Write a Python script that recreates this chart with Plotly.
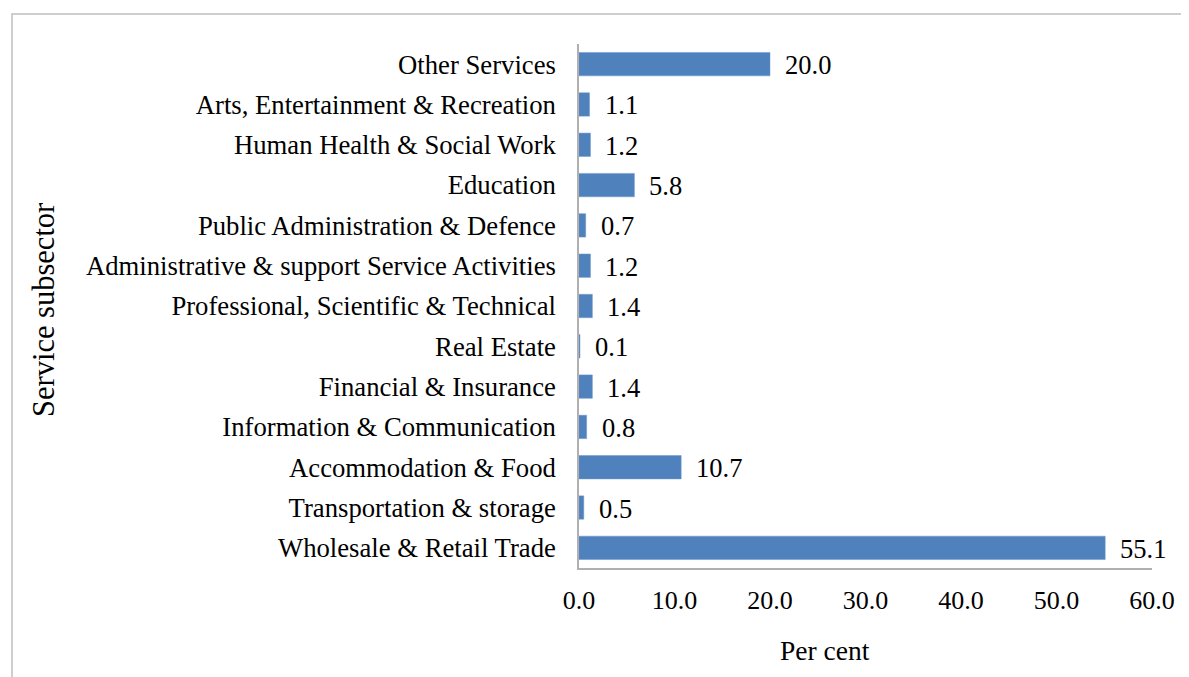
import plotly.graph_objects as go

categories = [
    "Wholesale & Retail Trade",
    "Transportation & storage",
    "Accommodation & Food",
    "Information & Communication",
    "Financial & Insurance",
    "Real Estate",
    "Professional, Scientific & Technical",
    "Administrative & support Service Activities",
    "Public Administration & Defence",
    "Education",
    "Human Health & Social Work",
    "Arts, Entertainment & Recreation",
    "Other Services",
]
values = [55.1, 0.5, 10.7, 0.8, 1.4, 0.1, 1.4, 1.2, 0.7, 5.8, 1.2, 1.1, 20.0]
x_ticks = [0, 10, 20, 30, 40, 50, 60]

FONT = "Liberation Serif, Times New Roman, serif"
OFF = 8  # page body margin
W, H = 1189 - OFF, 677 - OFF
ML, MT = 579 - OFF, 44 - OFF
MR = W - (1152 - OFF)
MB = H - (568 - OFF)
pw, ph = W - ML - MR, H - MT - MB


def px(xp):
    return (xp - OFF - ML) / pw


def py(yp):
    return 1 - (yp - OFF - MT) / ph


fig = go.Figure(go.Bar(
    x=values, y=categories, orientation="h",
    marker=dict(color="#4f81bd", line=dict(color="#6a96cc", width=0.5)),
    width=0.58, hoverinfo="x+y",
))

for c, v in zip(categories, values):
    fig.add_annotation(x=v, y=c, text=f"{v:.1f}", showarrow=False,
                       xanchor="left", xshift=13, yshift=-1,
                       font=dict(family=FONT, size=26.5, color="#000"))

fig.add_annotation(xref="paper", yref="paper", x=px(825), y=py(650),
                   text="Per cent", showarrow=False, xanchor="center", yanchor="middle",
                   font=dict(family=FONT, size=27.5, color="#000"))
fig.add_annotation(xref="paper", yref="paper", x=px(44), y=py(310),
                   text="Service subsector", showarrow=False, textangle=-90,
                   xanchor="center", yanchor="middle",
                   font=dict(family=FONT, size=30.5, color="#000"))

fig.add_shape(type="rect", xref="paper", yref="paper",
              x0=px(12), x1=px(1210), y0=py(700), y1=py(14),
              line=dict(color="#bfbfbf", width=1.5), fillcolor="rgba(0,0,0,0)", layer="below")

fig.update_layout(
    width=W, height=H,
    margin=dict(l=ML, r=MR, t=MT, b=MB),
    paper_bgcolor="white", plot_bgcolor="white",
    showlegend=False,
    font=dict(family=FONT, size=26, color="#000"),
    xaxis=dict(range=[0, 60], tickvals=x_ticks, ticktext=[f"{t:.1f}" for t in x_ticks],
               showgrid=False, zeroline=False, showline=True, linecolor="#b0b0b0", linewidth=1.5,
               ticks="", ticklabelstandoff=8, tickfont=dict(family=FONT, size=26, color="#000"),
               fixedrange=True),
    yaxis=dict(categoryorder="array", categoryarray=categories, showgrid=False,
               showline=True, linecolor="#b0b0b0", linewidth=1.5, ticks="",
               ticklabelstandoff=16, tickfont=dict(family=FONT, size=26.7, color="#000"),
               fixedrange=True),
)

fig.write_html("out.html")
